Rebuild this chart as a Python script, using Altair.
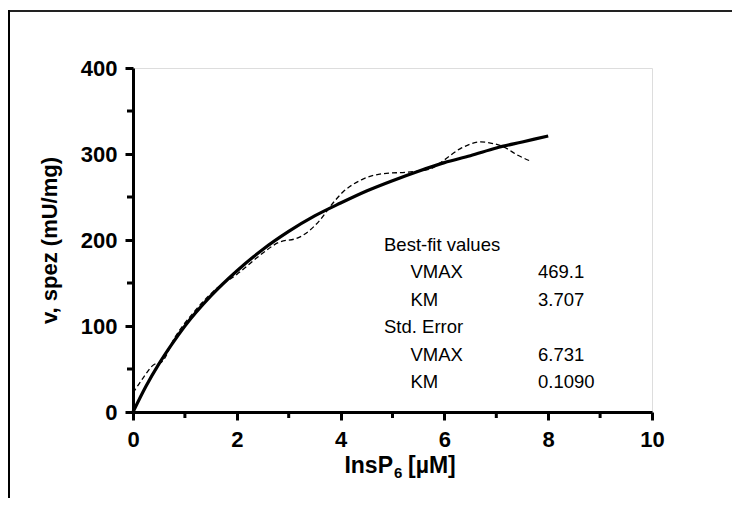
import altair as alt
import pandas as pd

# Fitted Michaelis-Menten curve
fit_x = [0, 0.25, 0.5, 0.75, 1, 1.5, 2, 2.5, 3, 3.5, 4, 4.5, 5, 5.5, 6, 6.5, 7, 7.5, 8]
fit_y = [0, 30, 56, 79, 100, 135, 164, 189, 210, 228, 243, 257, 269, 280, 290, 298, 307, 314, 321]

# Measured data curve (dashed)
data_x = [0, 0.2, 0.4, 0.55, 0.8, 1.2, 1.6, 2.0, 2.4, 2.8, 3.2, 3.6, 3.8, 4.05, 4.4, 4.8,
          5.3, 5.7, 5.95, 6.3, 6.7, 6.95, 7.15, 7.4, 7.65]
data_y = [22, 40, 55, 58, 86, 118, 143, 160, 180, 197, 203, 223, 239, 256, 270, 277,
          279, 282, 291, 306, 314, 312, 308, 299, 292]

x_major = [0, 2, 4, 6, 8, 10]
x_minor = [1, 3, 5, 7, 9]
y_major = [0, 100, 200, 300, 400]
y_minor = [50, 150, 250, 350]

stat_labels = ["Best-fit values", "VMAX", "KM", "Std. Error", "VMAX", "KM"]
stat_values = ["", "469.1", "3.707", "", "6.731", "0.1090"]
stat_indent = [0, 1, 1, 0, 1, 1]

W, H = 519, 344
FONT = "Liberation Sans"

fit_df = pd.DataFrame({"x": fit_x, "y": fit_y})
dat_df = pd.DataFrame({"x": data_x, "y": data_y})

xs = alt.Scale(domain=[0, 10], nice=False, zero=False)
ys = alt.Scale(domain=[0, 400], nice=False, zero=False)

xaxis = alt.Axis(values=x_major, title=None, tickSize=8, labelPadding=9,
                 labelFontSize=22, labelFontWeight="bold", labelFont=FONT,
                 labelColor="black", domainColor="black", domainWidth=3,
                 tickColor="black", tickWidth=3, grid=False, labelFlush=False)
yaxis = alt.Axis(values=y_major, title="v, spez (mU/mg)", tickSize=8, labelPadding=8,
                 labelFontSize=22, labelFontWeight="bold", labelFont=FONT,
                 labelColor="black", domainColor="black", domainWidth=3,
                 tickColor="black", tickWidth=3, grid=False,
                 titleFont=FONT, titleFontSize=22, titleFontWeight="bold",
                 titleColor="black", titlePadding=19, labelFlush=False)

fit_line = alt.Chart(fit_df).mark_line(color="black", strokeWidth=3.2, interpolate="monotone").encode(
    x=alt.X("x:Q", scale=xs, axis=xaxis),
    y=alt.Y("y:Q", scale=ys, axis=yaxis),
)

dat_line = alt.Chart(dat_df).mark_line(color="black", strokeWidth=1.3, strokeDash=[5, 3],
                                       interpolate="monotone").encode(
    x=alt.X("x:Q", scale=xs),
    y=alt.Y("y:Q", scale=ys),
)

xminor = alt.Chart(pd.DataFrame({"x": x_minor})).mark_rule(color="black", strokeWidth=3).encode(
    x=alt.X("x:Q", scale=xs), y=alt.value(H), y2=alt.value(H + 6))
yminor = alt.Chart(pd.DataFrame({"y": y_minor})).mark_rule(color="black", strokeWidth=3).encode(
    y=alt.Y("y:Q", scale=ys), x=alt.value(0), x2=alt.value(-6))

stats_df = pd.DataFrame({
    "label": stat_labels,
    "value": stat_values,
    "row": list(range(len(stat_labels))),
    "indent": stat_indent,
})
ROW0, STEP = 245 - 68, 27.4
lab = alt.Chart(stats_df).mark_text(align="left", baseline="middle", font=FONT,
                                    fontSize=18.5, color="black").encode(
    x=alt.X("xp:Q", scale=None), y=alt.Y("yp:Q", scale=None), text="label:N"
).transform_calculate(xp="251 + datum.indent * 26.5", yp=f"{ROW0} + datum.row * {STEP}")
val = alt.Chart(stats_df).mark_text(align="left", baseline="middle", font=FONT,
                                    fontSize=18.5, color="black").encode(
    x=alt.value(405), y=alt.Y("yp:Q", scale=None), text="value:N"
).transform_calculate(yp=f"{ROW0} + datum.row * {STEP}")

TY = 466 - 68
t1 = alt.Chart(pd.DataFrame({"t": ["InsP"]})).mark_text(
    align="right", baseline="middle", font=FONT, fontSize=23, fontWeight="bold", color="black"
).encode(x=alt.value(260), y=alt.value(TY), text="t:N")
t2 = alt.Chart(pd.DataFrame({"t": ["6"]})).mark_text(
    align="left", baseline="middle", font=FONT, fontSize=15, fontWeight="bold", color="black"
).encode(x=alt.value(261), y=alt.value(TY + 7), text="t:N")
t3 = alt.Chart(pd.DataFrame({"t": ["[µM]"]})).mark_text(
    align="left", baseline="middle", font=FONT, fontSize=23, fontWeight="bold", color="black"
).encode(x=alt.value(275), y=alt.value(TY), text="t:N")

frame_top = alt.Chart(pd.DataFrame({"a": [0]})).mark_rule(color="#222222", strokeWidth=2).encode(
    x=alt.value(-125), x2=alt.value(800), y=alt.value(-57))
frame_left = alt.Chart(pd.DataFrame({"a": [0]})).mark_rule(color="black", strokeWidth=2).encode(
    x=alt.value(-124), y=alt.value(-58), y2=alt.value(600))

chart = alt.layer(
    frame_top, frame_left, dat_line, fit_line, xminor, yminor, lab, val, t1, t2, t3
).properties(
    width=W, height=H,
    autosize=alt.AutoSizeParams(type="none"),
    padding={"left": 125, "top": 60, "right": 80, "bottom": 86},
).configure_view(stroke=None).configure(background="white")

chart.save("out.html", embed_options={"renderer": "svg", "actions": False})
